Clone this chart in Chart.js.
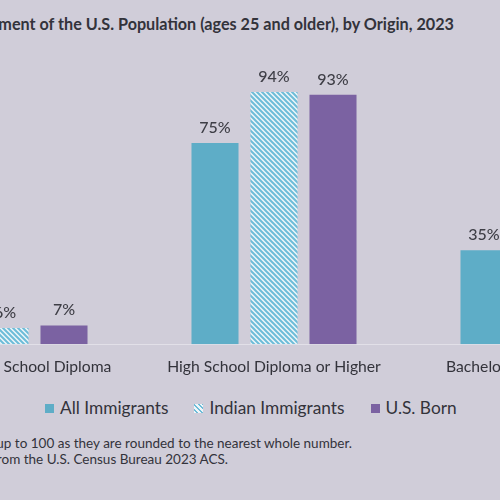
<!DOCTYPE html>
<html>
<head>
<meta charset="utf-8">
<script src="https://cdn.jsdelivr.net/npm/chart.js@4.4.1/dist/chart.umd.min.js"></script>
<style>
  html, body { margin: 0; padding: 0; width: 500px; height: 500px; overflow: hidden; background: #d0cdd9; font-family: Lato, sans-serif; color: #33333b; }
  #title { position: absolute; right: 46px; top: 14px; font-weight: 700; font-size: 16.2px; line-height: 20px; white-space: nowrap; }
  #chart { position: absolute; left: -150px; top: 0; }
  #legend { position: absolute; left: 45px; top: 398px; display: flex; gap: 26px; font-size: 17.3px; line-height: 20px; white-space: nowrap; }
  .item { display: flex; align-items: center; }
  .swatch { width: 9px; height: 9px; margin-right: 6px; }
  .note { position: absolute; font-size: 13.5px; line-height: 16px; white-space: nowrap; }
</style>
</head>
<body>
<div id="title">Educational Attainment of the U.S. Population (ages 25 and older), by Origin, 2023</div>
<canvas id="chart" width="850" height="397"></canvas>
<div id="legend"></div>
<div class="note" style="right:148px; top:435px;">Note: Numbers may not add up to 100 as they are rounded to the nearest whole number.</div>
<div class="note" style="right:272px; top:451px;">Source: MPI tabulation of data from the U.S. Census Bureau 2023 ACS.</div>
<script>
// --- DATA ---
const categories = ["Less than High School Diploma", "High School Diploma or Higher", "Bachelor's Degree or Higher"];
const seriesNames = ["All Immigrants", "Indian Immigrants", "U.S. Born"];
const allImmigrants = [25, 75, 35];
const indianImmigrants = [6, 94, 80];
const usBorn = [7, 93, 36];

const teal = "#5eadc7";
const purple = "#7b62a2";

// diagonal hatch for Indian immigrants
function makeHatch() {
  const tile = document.createElement("canvas");
  tile.width = 5;
  tile.height = 5;
  const t = tile.getContext("2d");
  t.fillStyle = "#eef6f9";
  t.fillRect(0, 0, 5, 5);
  t.strokeStyle = "#6dbcd8";
  t.lineWidth = 2;
  t.beginPath();
  t.moveTo(-1, -1); t.lineTo(6, 6);
  t.moveTo(-1, 4); t.lineTo(1, 6);
  t.moveTo(4, -1); t.lineTo(6, 1);
  t.stroke();
  return t.createPattern(tile, "repeat");
}
const hatch = makeHatch();

// value labels above bars
const valueLabels = {
  id: "valueLabels",
  afterDatasetsDraw(chart) {
    const ctx = chart.ctx;
    ctx.save();
    ctx.font = "500 16px Lato";
    ctx.fillStyle = "#3e3e46";
    ctx.textAlign = "center";
    ctx.textBaseline = "alphabetic";
    chart.data.datasets.forEach((ds, i) => {
      chart.getDatasetMeta(i).data.forEach((bar, j) => {
        ctx.fillText(ds.data[j] + "%", bar.x, bar.y - 10);
      });
    });
    ctx.restore();
  }
};

const chart = new Chart(document.getElementById("chart").getContext("2d"), {
  type: "bar",
  data: {
    labels: categories,
    datasets: [
      { label: seriesNames[0], data: allImmigrants, backgroundColor: teal },
      { label: seriesNames[1], data: indianImmigrants, backgroundColor: hatch },
      { label: seriesNames[2], data: usBorn, backgroundColor: purple }
    ]
  },
  options: {
    responsive: false,
    animation: false,
    categoryPercentage: 0.658,
    barPercentage: 0.797,
    layout: { padding: { left: 20.5, right: 22.5, top: 76, bottom: 8 } },
    scales: {
      x: {
        grid: { display: false, drawTicks: false },
        border: { color: "#e2e0e8", width: 1 },
        ticks: { color: "#33333b", font: { family: "Lato", size: 15.7 }, padding: 13, maxRotation: 0, autoSkip: false }
      },
      y: { display: false, min: 0, max: 100 }
    },
    plugins: {
      legend: { display: false },
      tooltip: { enabled: false }
    }
  },
  plugins: [valueLabels]
});

// --- LEGEND ---
const legendEl = document.getElementById("legend");
const swatchStyles = [
  "background:" + teal,
  "background:repeating-linear-gradient(45deg,#eef6f9 0 1.5px,#6dbcd8 1.5px 3.5px)",
  "background:" + purple
];
seriesNames.forEach((name, i) => {
  const item = document.createElement("div");
  item.className = "item";
  item.innerHTML = '<span class="swatch" style="' + swatchStyles[i] + '"></span>' + name;
  legendEl.appendChild(item);
});
</script>
</body>
</html>
